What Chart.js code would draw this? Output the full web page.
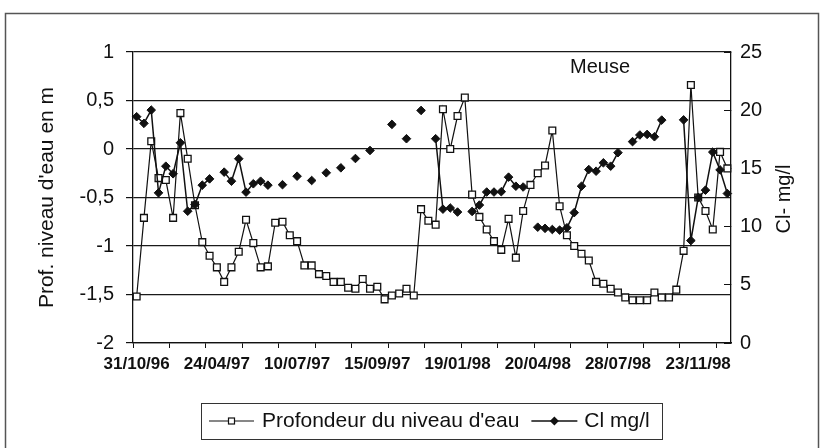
<!DOCTYPE html>
<html>
<head>
<meta charset="utf-8">
<script src="https://cdn.jsdelivr.net/npm/chart.js@4"></script>
<style>
  html, body { margin: 0; padding: 0; background: #fff; }
</style>
</head>
<body>
<canvas id="graphique" width="830" height="448"></canvas>
<script>
// dates affichées sous l'axe (une toutes les 11 mesures)
const tickLabels = ['31/10/96', '24/04/97', '10/07/97', '15/09/97', '19/01/98', '20/04/98', '28/07/98', '23/11/98'];

// profondeur du niveau d'eau (m)
const profondeur = [
  -1.52, -0.71, 0.08, -0.30, -0.32, -0.71, 0.37, -0.10, -0.58, -0.96,
  -1.10, -1.22, -1.37, -1.22, -1.06, -0.73, -0.97, -1.22, -1.21, -0.76,
  -0.75, -0.89, -0.95, -1.20, -1.20, -1.29, -1.31, -1.37, -1.37, -1.43,
  -1.44, -1.34, -1.44, -1.42, -1.55, -1.51, -1.49, -1.44, -1.51, -0.62,
  -0.74, -0.78, 0.41, 0.00, 0.34, 0.53, -0.47, -0.70, -0.83, -0.95,
  -1.04, -0.72, -1.12, -0.64, -0.37, -0.25, -0.17, 0.19, -0.59, -0.89,
  -1.00, -1.08, -1.15, -1.37, -1.39, -1.44, -1.48, -1.53, -1.56, -1.56,
  -1.56, -1.48, -1.53, -1.53, -1.45, -1.05, 0.66, -0.50, -0.64, -0.83,
  -0.03, -0.20
];

// chlorures (mg/l), null = pas de mesure
const chlorures = [
  19.44, 18.87, 20.01, 12.9, 15.19, 14.54, 17.2, 11.32, 11.9, 13.56,
  14.1, null, 14.68, 13.9, 15.83, 12.96, 13.68, 13.9, 13.56, null,
  13.6, null, 14.33, null, 13.96, null, 14.62, null, 15.05, null,
  15.85, null, 16.54, null, null, 18.78, null, 17.55, null, 19.98,
  null, 17.55, 11.5, 11.6, 11.25, null, 11.3, 11.85, 12.97, 12.97,
  13.0, 14.25, 13.47, 13.4, null, 9.95, 9.85, 9.75, 9.7, 9.9,
  11.2, 13.47, 14.9, 14.76, 15.48, 15.19, 16.35, null, 17.3, 17.87,
  17.92, 17.72, 19.15, null, null, 19.17, 8.8, 12.5, 13.13, 16.4,
  14.87, 12.84
];

const categories = profondeur.map((v, i) => (i % 11 === 0 ? tickLabels[i / 11] : ''));

const police = 'Liberation Sans, Arial, sans-serif';
const encre = '#111';
Chart.defaults.font.family = police;
Chart.defaults.color = encre;

// cadre, titre "Meuse", titre de l'axe droit et légende
const decor = {
  id: 'decor',
  beforeDraw(chart) {
    const ctx = chart.ctx;
    ctx.save();
    ctx.fillStyle = '#fff';
    ctx.fillRect(0, 0, chart.width, chart.height);
    ctx.strokeStyle = '#555';
    ctx.lineWidth = 1.5;
    ctx.strokeRect(5.5, 13.5, 813, 450);
    ctx.restore();
  },
  afterDraw(chart) {
    const ctx = chart.ctx;
    ctx.save();
    ctx.fillStyle = encre;
    ctx.font = '20px ' + police;
    ctx.textAlign = 'center';
    ctx.textBaseline = 'middle';
    ctx.fillText('Meuse', 600, 67);

    ctx.translate(784, 199);
    ctx.rotate(-Math.PI / 2);
    ctx.fillText('Cl- mg/l', 0, 0);
    ctx.restore();

    // légende
    ctx.save();
    ctx.strokeStyle = '#333';
    ctx.lineWidth = 1;
    ctx.strokeRect(201.5, 403.5, 461, 36);
    const yl = 421;
    ctx.font = '21px ' + police;
    ctx.textBaseline = 'middle';
    ctx.fillStyle = encre;

    ctx.strokeStyle = encre;
    ctx.lineWidth = 1.2;
    ctx.beginPath();
    ctx.moveTo(209, yl); ctx.lineTo(254, yl);
    ctx.stroke();
    ctx.fillStyle = '#fff';
    ctx.fillRect(228, yl - 3.5, 7, 7);
    ctx.strokeRect(228.5, yl - 3, 6, 6);
    ctx.fillStyle = encre;
    const t1 = "Profondeur du niveau d'eau";
    ctx.fillText(t1, 262, yl);

    const x2 = 262 + ctx.measureText(t1).width + 12;
    ctx.lineWidth = 1.5;
    ctx.beginPath();
    ctx.moveTo(x2, yl); ctx.lineTo(x2 + 46, yl);
    ctx.stroke();
    ctx.beginPath();
    ctx.moveTo(x2 + 23, yl - 4.5); ctx.lineTo(x2 + 27.5, yl);
    ctx.lineTo(x2 + 23, yl + 4.5); ctx.lineTo(x2 + 18.5, yl);
    ctx.closePath();
    ctx.fill();
    ctx.fillText('Cl mg/l', x2 + 53, yl);
    ctx.restore();
  }
};

new Chart(document.getElementById('graphique'), {
  type: 'line',
  data: {
    labels: categories,
    datasets: [
      {
        label: "Profondeur du niveau d'eau",
        data: profondeur,
        yAxisID: 'y',
        borderColor: encre,
        borderWidth: 1.2,
        pointStyle: 'rect',
        pointRadius: 4.8,
        pointBackgroundColor: '#fff',
        pointBorderColor: encre,
        pointBorderWidth: 1.3,
        tension: 0,
        order: 1
      },
      {
        label: 'Cl mg/l',
        data: chlorures,
        yAxisID: 'y1',
        borderColor: encre,
        borderWidth: 1.5,
        pointStyle: 'rectRot',
        pointRadius: 4.3,
        pointBackgroundColor: encre,
        pointBorderColor: encre,
        pointBorderWidth: 1,
        spanGaps: false,
        tension: 0,
        order: 0
      }
    ]
  },
  options: {
    responsive: false,
    animation: false,
    layout: { padding: { top: 52, left: 0, right: 0, bottom: 0 } },
    plugins: {
      legend: { display: false },
      tooltip: { enabled: false }
    },
    scales: {
      x: {
        type: 'category',
        offset: true,
        grid: {
          offset: true,
          drawOnChartArea: false,
          drawTicks: true,
          tickLength: 5,
          tickColor: c => (c.index % 5 === 0 ? encre : 'rgba(0,0,0,0)')
        },
        border: { display: true, color: encre, width: 1.3 },
        ticks: { autoSkip: false, maxRotation: 0, minRotation: 0, padding: 6, font: { size: 17, weight: 'bold' } },
        afterFit: s => { s.height = 105; }
      },
      y: {
        position: 'left',
        min: -2,
        max: 1,
        ticks: { stepSize: 0.5, padding: 12, font: { size: 20 }, callback: v => String(v).replace('.', ',') },
        grid: { color: '#1a1a1a', lineWidth: 1.2, tickLength: 7, tickColor: encre },
        border: { display: true, color: encre, width: 1.3 },
        title: { display: true, text: "Prof. niveau d'eau en m", font: { size: 21 }, padding: { top: 35, bottom: 0 } },
        afterFit: s => { s.width = 133; }
      },
      y1: {
        position: 'right',
        min: 0,
        max: 25,
        ticks: { stepSize: 5, padding: 16, font: { size: 20 } },
        grid: { drawOnChartArea: false, tickLength: -7, tickColor: encre },
        border: { display: true, color: encre, width: 1.3 },
        afterFit: s => { s.width = 99; }
      }
    }
  },
  plugins: [decor]
});
</script>
</body>
</html>
